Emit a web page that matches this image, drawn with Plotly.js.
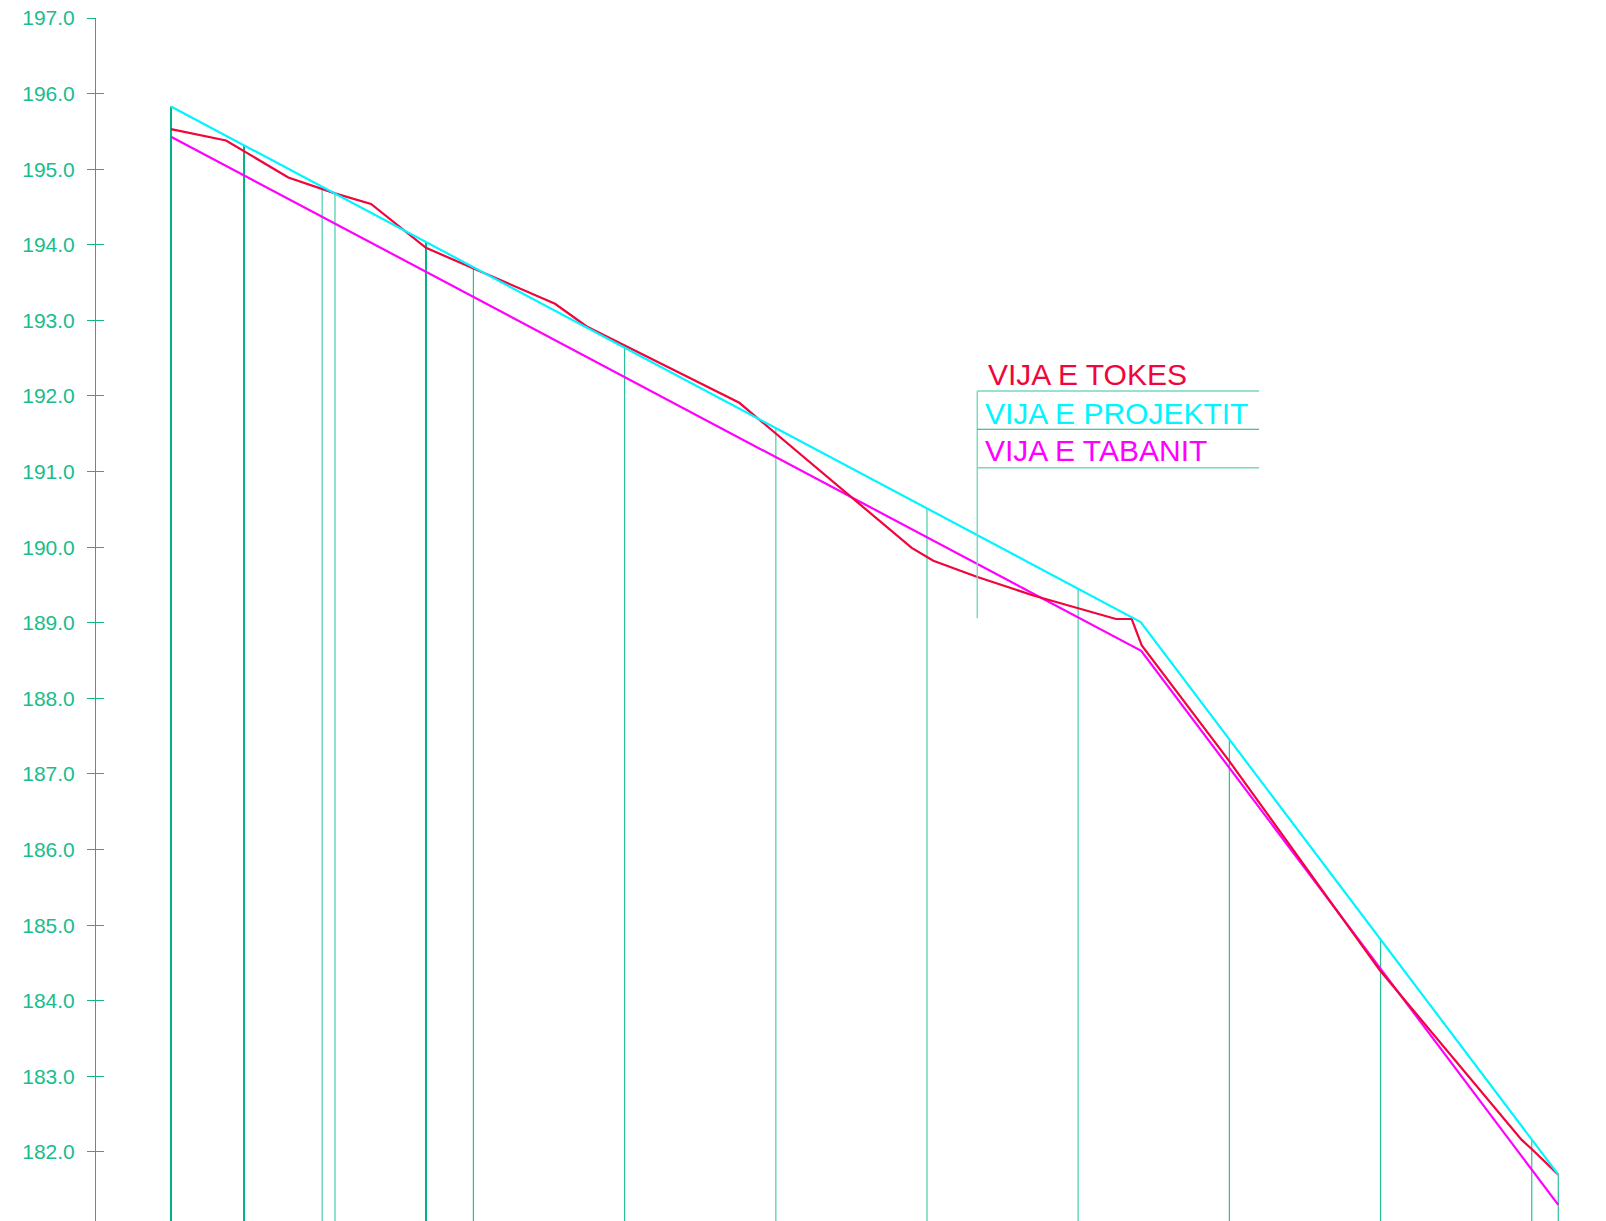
<!DOCTYPE html>
<html>
<head>
<meta charset="utf-8">
<script src="https://cdn.plot.ly/plotly-3.0.1.min.js"></script>
<style>
  html, body { margin: 0; padding: 0; background: #ffffff; }
  #chart { width: 1606px; height: 1221px; }
</style>
</head>
<body>
<div id="chart"></div>
<script>
// ---- DATA (chainage in m, elevation in m) ----
const stationChainage = [0, 9.66, 20, 21.69, 33.73, 40, 60, 80, 100, 120, 140, 160, 180, 183.51];
const stationTopElev  = [195.83, 195.31, 194.77, 194.67, 194.04, 193.71, 192.64, 191.58, 190.52, 189.46, 187.47, 184.81, 182.17, 181.70];
const baseElev = 181.0;

const terrainChainage = [0, 7.28, 15.52, 21.69, 26.46, 33.73, 50.80, 54.99, 75.18, 97.98, 100.84, 106.58, 114.07, 120.02, 125.0, 127.08, 128.41, 139.99, 159.93, 178.67, 179.99, 183.51];
const terrainElev     = [195.53, 195.38, 194.89, 194.68, 194.54, 193.96, 193.22, 192.92, 191.91, 189.99, 189.82, 189.61, 189.36, 189.19, 189.05, 189.05, 188.70, 187.17, 184.40, 182.16, 182.04, 181.70];

const projectChainage = [0, 128.27, 183.51];
const projectElev     = [195.83, 189.01, 181.70];

const bottomChainage  = [0, 128.34, 183.51];
const bottomElev      = [195.43, 188.63, 181.30];

const legendLabels = ["VIJA E TOKES", "VIJA E PROJEKTIT", "VIJA E TABANIT"];

// ---- STYLES ----
const TEAL = "#12b88a";
const stationStyle = ["dark","dark","light","light","dark","mid","mid","light","light","light","mid","mid","mid","mid"];
const styleDefs = {
  dark:  {color: "#00b386", width: 2},
  light: {color: "#74d9be", width: 1.6},
  mid:   {color: "#2bbf96", width: 1.2}
};
const RED = "#f0053c", CYAN = "#00f5ff", MAGENTA = "#ff00ff";

const traces = [];
Object.keys(styleDefs).forEach(function (k) {
  const xs = [], ys = [];
  stationChainage.forEach(function (c, i) {
    if (stationStyle[i] !== k) return;
    xs.push(c, c, null);
    ys.push(baseElev, stationTopElev[i], null);
  });
  traces.push({x: xs, y: ys, mode: "lines", line: styleDefs[k], hoverinfo: "skip", showlegend: false});
});
traces.push({x: bottomChainage, y: bottomElev, mode: "lines", line: {color: MAGENTA, width: 2.2}, showlegend: false});
traces.push({x: terrainChainage, y: terrainElev, mode: "lines", line: {color: RED, width: 2.2}, showlegend: false});
traces.push({x: projectChainage, y: projectElev, mode: "lines", line: {color: CYAN, width: 2.2}, showlegend: false});
// second axis only for the inner half of the crossing ticks
traces.push({x: [0], y: [190], yaxis: "y2", mode: "markers", marker: {opacity: 0}, hoverinfo: "skip", showlegend: false});

const yRange = [181.087, 197];
const font = "Liberation Sans, Arial, sans-serif";

const layout = {
  width: 1606, height: 1221,
  margin: {l: 96, r: 0, t: 18, b: 0, pad: 0},
  paper_bgcolor: "#ffffff", plot_bgcolor: "#ffffff",
  showlegend: false,
  xaxis: {range: [-9.92, 189.82], visible: false, showgrid: false, zeroline: false},
  yaxis: {
    range: yRange, dtick: 1, tick0: 182, tickformat: ".1f",
    showgrid: false, zeroline: false,
    showline: true, linecolor: TEAL, linewidth: 1,
    ticks: "outside", ticklen: 8, tickcolor: TEAL, tickwidth: 1,
    tickfont: {family: font, size: 21, color: "#1abc8c"},
    ticklabelstandoff: 8
  },
  yaxis2: {
    range: yRange, dtick: 1, tick0: 182, overlaying: "y", side: "left",
    showgrid: false, zeroline: false, showline: false,
    ticks: "inside", ticklen: 8, tickcolor: TEAL, tickwidth: 1,
    showticklabels: false
  },
  shapes: [
    {type: "line", xref: "x", yref: "y", x0: 106.65, x1: 106.65, y0: 189.06, y1: 192.066, line: {color: "#74d9be", width: 1.4}},
    {type: "line", xref: "x", yref: "y", x0: 106.65, x1: 143.92, y0: 192.066, y1: 192.066, line: {color: "#74d9be", width: 1.4}},
    {type: "line", xref: "x", yref: "y", x0: 106.65, x1: 143.92, y0: 191.56, y1: 191.56, line: {color: "#1aaa80", width: 1.2}},
    {type: "line", xref: "x", yref: "y", x0: 106.65, x1: 143.92, y0: 191.05, y1: 191.05, line: {color: "#74d9be", width: 1.4}}
  ],
  annotations: [
    {x: 107.85, y: 192.284, text: legendLabels[0], color: RED},
    {x: 107.40, y: 191.775, text: legendLabels[1], color: CYAN},
    {x: 107.40, y: 191.275, text: legendLabels[2], color: MAGENTA}
  ].map(function (a) {
    return {x: a.x, y: a.y, xref: "x", yref: "y", text: a.text, showarrow: false,
            xanchor: "left", yanchor: "middle",
            font: {family: font, size: 30, color: a.color}};
  })
};

Plotly.newPlot("chart", traces, layout, {staticPlot: true, displayModeBar: false});
</script>
</body>
</html>
